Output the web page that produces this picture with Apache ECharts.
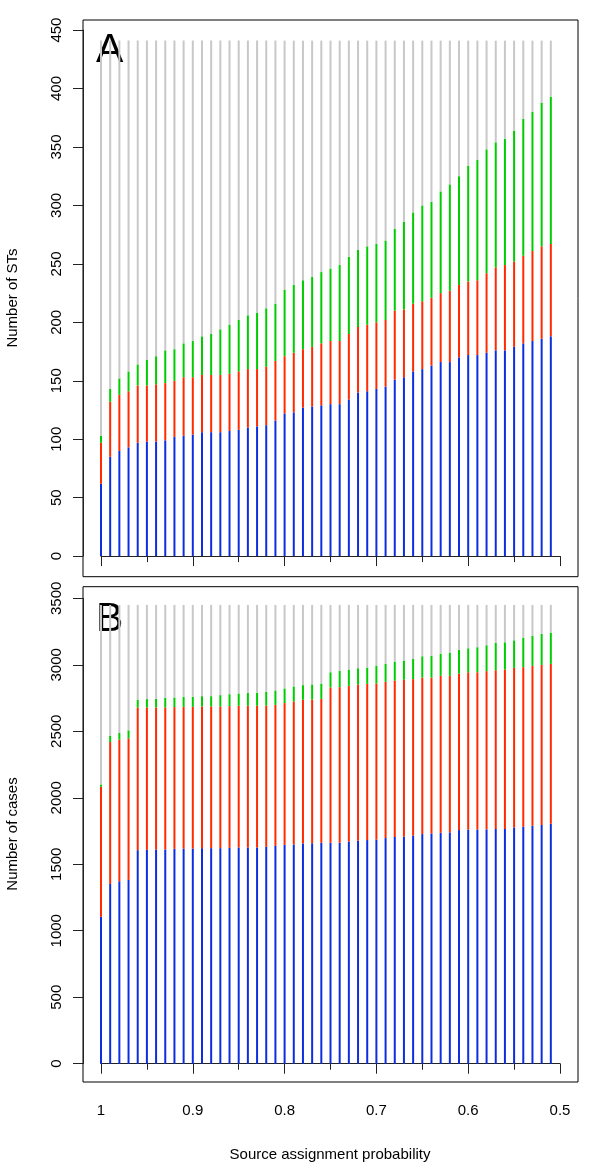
<!DOCTYPE html>
<html><head><meta charset="utf-8">
<script src="https://cdn.jsdelivr.net/npm/echarts@6/dist/echarts.min.js"></script>
<style>html,body{margin:0;padding:0;background:#fff}#c{width:600px;height:1167px}</style>
</head><body><div id="c"></div>
<script>
// ---- data ----
const PROB = [1.00,0.99,0.98,0.97,0.96,0.95,0.94,0.93,0.92,0.91,
              0.90,0.89,0.88,0.87,0.86,0.85,0.84,0.83,0.82,0.81,
              0.80,0.79,0.78,0.77,0.76,0.75,0.74,0.73,0.72,0.71,
              0.70,0.69,0.68,0.67,0.66,0.65,0.64,0.63,0.62,0.61,
              0.60,0.59,0.58,0.57,0.56,0.55,0.54,0.53,0.52,0.51];

// Panel A: number of STs (cumulative tops of each coloured segment)
const TOTAL_STS = 441;
const BLUE_STS  = [62,85,90,93,97,98,98,99,102,103,
                   104,106,106,106,107,108,110,111,112,116,
                   122,123,127,128,129,130,130,134,140,141,
                   143,145,151,153,158,160,163,166,166,170,
                   172,172,174,176,176,179,182,184,186,188];
const RED_STS   = [97,132,138,141,146,146,147,148,150,153,
                   153,155,155,155,156,158,160,160,162,167,
                   171,174,177,179,182,184,184,190,196,198,
                   200,202,210,211,216,218,221,225,227,232,
                   235,236,242,247,249,252,257,261,265,267];
const GREEN_STS = [103,143,152,158,164,168,171,176,177,182,
                   184,188,190,194,198,202,206,208,212,216,
                   228,232,236,239,243,246,249,256,262,265,
                   267,270,280,286,294,300,303,312,318,325,
                   334,339,348,354,357,364,374,380,388,393];

// Panel B: number of cases
const TOTAL_CASES = 3450;
const BLUE_CASES  = [1105,1352,1372,1382,1606,1608,1611,1611,1616,1618,
                     1618,1621,1621,1621,1623,1626,1626,1626,1631,1638,
                     1646,1648,1656,1658,1661,1662,1662,1670,1677,1682,
                     1685,1697,1705,1707,1715,1727,1732,1737,1740,1757,
                     1760,1761,1762,1765,1765,1777,1782,1790,1795,1805];
const RED_CASES   = [2082,2419,2437,2447,2679,2679,2679,2679,2682,2684,
                     2684,2687,2687,2687,2689,2692,2692,2692,2694,2699,
                     2712,2724,2737,2739,2744,2829,2832,2842,2852,2857,
                     2859,2872,2882,2887,2892,2904,2904,2917,2917,2934,
                     2944,2944,2952,2959,2964,2977,2982,2992,2999,3007];
const GREEN_CASES = [2099,2467,2487,2507,2737,2742,2744,2752,2754,2759,
                     2759,2764,2764,2772,2779,2784,2789,2789,2797,2807,
                     2822,2837,2847,2852,2859,2944,2954,2964,2974,2979,
                     2994,3007,3024,3032,3044,3064,3067,3082,3092,3112,
                     3124,3132,3147,3164,3169,3184,3204,3219,3232,3242];

const X_AXIS = {min: 0.5, max: 1, step: 0.1};
const Y_AXIS_A = {min: 0, max: 450, step: 50};
const Y_AXIS_B = {min: 0, max: 3500, step: 500};

const X_TITLE = 'Source assignment probability';
const Y_TITLE_A = 'Number of STs';
const Y_TITLE_B = 'Number of cases';
const PANEL_LABELS = ['A', 'B'];

// ---- styles ----
const FONT = "'Liberation Sans', Arial, sans-serif";
const COL = {grey: '#c8c8c8', green: '#00cc00', red: '#ff2a00', blue: '#0d2ee0', axis: '#222'};
const SEG_COLORS = [COL.blue, COL.red, COL.green, COL.grey];
const BAR_W = 2;

const chart = echarts.init(document.getElementById('c'), null, {renderer: 'canvas'});

function xAxisData(gridIndex, showLabels, offset) {
  return {
    type: 'value', gridIndex, min: X_AXIS.min, max: X_AXIS.max, interval: X_AXIS.step,
    inverse: true, offset,
    axisLine: {show: true, lineStyle: {color: COL.axis, width: 1}},
    axisTick: {show: true, length: 10, lineStyle: {color: COL.axis}},
    minorTick: {show: true, splitNumber: 2, length: 6, lineStyle: {color: COL.axis}},
    splitLine: {show: false}, minorSplitLine: {show: false},
    axisLabel: {show: showLabels, fontFamily: FONT, fontSize: 15, color: '#000', margin: 21,
                formatter: v => String(+(+v).toFixed(2))}
  };
}
function yAxisData(gridIndex, cfg) {
  return {
    type: 'value', gridIndex, min: cfg.min, max: cfg.max, interval: cfg.step, offset: 18,
    axisLine: {show: true, lineStyle: {color: COL.axis, width: 1}},
    axisTick: {show: true, length: 10, lineStyle: {color: COL.axis}},
    splitLine: {show: false},
    axisLabel: {show: true, rotate: 90, fontFamily: FONT, fontSize: 15, color: '#000', margin: 19,
                formatter: v => String(Math.round(v))}
  };
}
function hiddenAxis(gridIndex) { return {type: 'value', gridIndex, show: false, min: 0, max: 1}; }

// rows: [prob, blueTop, redTop, greenTop, total]
function rows(blue, red, green, total) {
  return PROB.map((p, i) => [p, blue[i], red[i], green[i], total]);
}
function renderStack(params, api) {
  const x = api.value(0);
  const tops = [api.value(1), api.value(2), api.value(3), api.value(4)];
  const children = [];
  let lo = 0;
  for (let k = 0; k < 4; k++) {
    const p0 = api.coord([x, lo]);
    const p1 = api.coord([x, tops[k]]);
    children.push({
      type: 'rect',
      shape: {x: p0[0] - BAR_W / 2, y: p1[1], width: BAR_W, height: p0[1] - p1[1]},
      style: {fill: SEG_COLORS[k]}
    });
    lo = tops[k];
  }
  return {type: 'group', children};
}
function stackSeries(xi, yi, data) {
  return {
    type: 'custom', xAxisIndex: xi, yAxisIndex: yi, clip: false, silent: true, animation: false,
    renderItem: renderStack, encode: {x: 0, y: [1, 2, 3, 4]}, data
  };
}

const option = {
  backgroundColor: '#fff',
  animation: false,
  grid: [
    {left: 83, top: 20, width: 495, height: 556.7, show: true, borderColor: '#000', borderWidth: 1, backgroundColor: 'transparent'},
    {left: 101, top: 30.1, width: 459, height: 526},
    {left: 83, top: 586.7, width: 495, height: 495.3, show: true, borderColor: '#000', borderWidth: 1, backgroundColor: 'transparent'},
    {left: 101, top: 598.3, width: 459, height: 465.4}
  ],
  xAxis: [hiddenAxis(0), xAxisData(1, false, 20.6), hiddenAxis(2), xAxisData(3, true, 18.3)],
  yAxis: [hiddenAxis(0), yAxisData(1, Y_AXIS_A), hiddenAxis(2), yAxisData(3, Y_AXIS_B)],
  series: [
    stackSeries(1, 1, rows(BLUE_STS, RED_STS, GREEN_STS, TOTAL_STS)),
    stackSeries(3, 3, rows(BLUE_CASES, RED_CASES, GREEN_CASES, TOTAL_CASES))
  ],
  graphic: [
    {type: 'text', x: 96, y: 51, style: {text: PANEL_LABELS[0], font: '41px ' + FONT, fill: '#000', textAlign: 'left', textVerticalAlign: 'middle'}},
    {type: 'text', x: 96, y: 620, style: {text: PANEL_LABELS[1], font: '41px ' + FONT, fill: '#000', textAlign: 'left', textVerticalAlign: 'middle'}},
    {type: 'text', x: 13, y: 298, rotation: Math.PI / 2, style: {text: Y_TITLE_A, font: '15px ' + FONT, fill: '#000', textAlign: 'center', textVerticalAlign: 'middle'}},
    {type: 'text', x: 13, y: 834, rotation: Math.PI / 2, style: {text: Y_TITLE_B, font: '15px ' + FONT, fill: '#000', textAlign: 'center', textVerticalAlign: 'middle'}},
    {type: 'text', x: 330, y: 1155, style: {text: X_TITLE, font: '15px ' + FONT, fill: '#000', textAlign: 'center', textVerticalAlign: 'middle'}}
  ]
};
chart.setOption(option);
</script></body></html>
